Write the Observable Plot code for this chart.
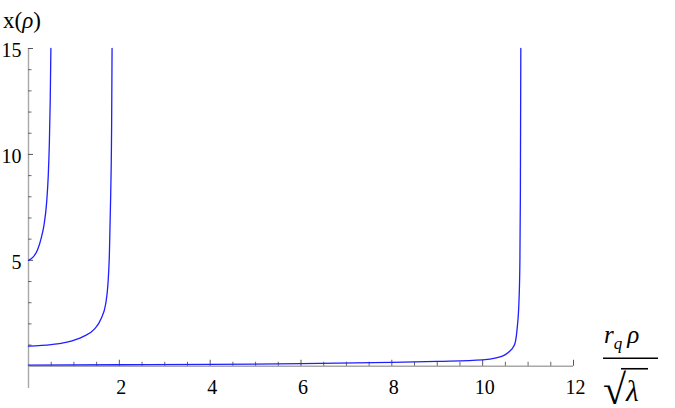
<!DOCTYPE html>
<html><head><meta charset="utf-8">
<script src="https://cdn.jsdelivr.net/npm/d3@7"></script>
<script src="https://cdn.jsdelivr.net/npm/@observablehq/plot@0.6"></script>
<style>
html,body{margin:0;padding:0;background:#fff;}
#chart{width:675px;height:408px;overflow:hidden;}
#chart svg text, #chart svg tspan{font-family:"Liberation Serif","Times New Roman",serif !important;}
</style></head><body><div id="chart"></div>
<script>
// Curve 1 (starts at x(0)=5)
const curve1X = [0, 0.1, 0.2, 0.28, 0.34, 0.40, 0.435, 0.46, 0.478, 0.493];
const curve1Y = [5, 5.15, 5.5, 6.05, 6.65, 7.75, 9.0, 10.6, 12.5, 15];
// Curve 2 (starts at x(0)≈1)
const curve2X = [0, 0.5, 0.85, 1.2, 1.45, 1.6, 1.7, 1.75, 1.78, 1.81, 1.83, 1.84];
const curve2Y = [0.95, 1.02, 1.14, 1.4, 1.75, 2.25, 2.95, 3.9, 5.2, 8.1, 11.3, 15];
// Curve 3 (starts just above 0)
const curve3X = [0, 2, 4, 6, 8, 9, 10, 10.3, 10.5, 10.6, 10.67, 10.72, 10.76, 10.8, 10.82, 10.83, 10.84];
const curve3Y = [0.05, 0.07, 0.09, 0.12, 0.18, 0.23, 0.3, 0.4, 0.55, 0.72, 0.9, 1.15, 1.8, 3.1, 5, 8, 15];

const xMajorTicks = [2, 4, 6, 8, 10, 12];
const xTickLabels = ["2", "4", "6", "8", "10", "12"];
const yMajorTicks = [5, 10, 15];
const yTickLabels = ["5", "10", "15"];
const xMinorTicks = d3.range(0.5, 12, 0.5).filter(v => v % 2 !== 0);
const yMinorTicks = d3.range(1, 15, 1).filter(v => v % 5 !== 0);

const curves = [
  ...curve1X.map((x, i) => ({series: "a", x, y: curve1Y[i]})),
  ...curve2X.map((x, i) => ({series: "b", x, y: curve2Y[i]})),
  ...curve3X.map((x, i) => ({series: "c", x, y: curve3Y[i]}))
];

const W = 675, H = 408;
const xDomain = [0, 12], yDomain = [-1.05, 15];
const mL = 28, mR = 102, mT = 48, mB = 20;
const pxX = (xDomain[1] - xDomain[0]) / (W - mL - mR);
const pxY = (yDomain[1] - yDomain[0]) / (H - mT - mB);
const serif = "Liberation Serif";

const plot = Plot.plot({
  width: W, height: H,
  marginLeft: mL, marginRight: mR, marginTop: mT, marginBottom: mB,
  x: {domain: xDomain, axis: null},
  y: {domain: yDomain, axis: null},
  style: {background: "white", overflow: "visible"},
  marks: [
    Plot.ruleX([0], {stroke: "#a8a8a8", strokeWidth: 1.4}),
    Plot.ruleY([0], {stroke: "#a8a8a8", strokeWidth: 1.4}),
    Plot.ruleX(xMajorTicks, {x: d => d, y1: 0, y2: 6 * pxY, stroke: "#555", strokeWidth: 1}),
    Plot.ruleX(xMinorTicks, {x: d => d, y1: 0, y2: 4 * pxY, stroke: "#666", strokeWidth: 1}),
    Plot.ruleY(yMajorTicks, {y: d => d, x1: 0, x2: 5 * pxX, stroke: "#555", strokeWidth: 1}),
    Plot.ruleY(yMinorTicks, {y: d => d, x1: 0, x2: 3.5 * pxX, stroke: "#666", strokeWidth: 1}),
    Plot.text(xMajorTicks, {x: d => d, y: 0, text: (d, i) => xTickLabels[i], dy: 21, dx: 2, fontSize: 20, fontFamily: serif, lineAnchor: "middle", fill: "black"}),
    Plot.text(yMajorTicks, {x: 0, y: d => d, text: (d, i) => yTickLabels[i], textAnchor: "end", dx: -7, dy: 2, fontSize: 20, fontFamily: serif, fill: "black"}),
    Plot.line(curves, {x: "x", y: "y", z: "series", stroke: "#1f1fff", strokeWidth: 1.3, curve: "monotone-x"})
  ]
});
document.getElementById("chart").appendChild(plot);

// Axis titles
const svg = d3.select(plot);
const xs = plot.scale("x").apply, ys = plot.scale("y").apply;
const x0 = xs(0), x12 = xs(12), y0 = ys(0), y15 = ys(15);

const yt = svg.append("text").attr("x", x0 - 25).attr("y", y15 - 20)
  .attr("text-anchor", "start").style("font-family", serif).attr("font-size", 23).attr("fill", "black");
yt.append("tspan").text("x(");
yt.append("tspan").attr("font-style", "italic").text("ρ");
yt.append("tspan").text(")");

const fx = x12 + 30;
const num = svg.append("text").attr("x", fx + 1).attr("y", y0 - 23)
  .attr("text-anchor", "start").style("font-family", serif).attr("font-size", 25).attr("fill", "black").attr("font-style", "italic");
num.append("tspan").text("r");
num.append("tspan").attr("font-size", 17).attr("dy", 6).text("q");
num.append("tspan").attr("dy", -6).attr("dx", 5).text("ρ");

svg.append("line").attr("x1", fx).attr("x2", fx + 55).attr("y1", y0 - 7.5).attr("y2", y0 - 7.5)
  .attr("stroke", "black").attr("stroke-width", 1.7);

const den = svg.append("text").attr("x", fx).attr("y", y0 + 38)
  .attr("text-anchor", "start").style("font-family", serif).attr("font-size", 42).attr("fill", "black");
den.append("tspan").text("√");
den.append("tspan").attr("font-size", 29).attr("font-style", "italic").attr("dy", -3).attr("dx", 0).text("λ");
// vinculum of the radical
svg.append("line").attr("x1", fx + 18).attr("x2", fx + 45).attr("y1", y0 + 3).attr("y2", y0 + 3)
  .attr("stroke", "black").attr("stroke-width", 1.6);
</script>
</body></html>
